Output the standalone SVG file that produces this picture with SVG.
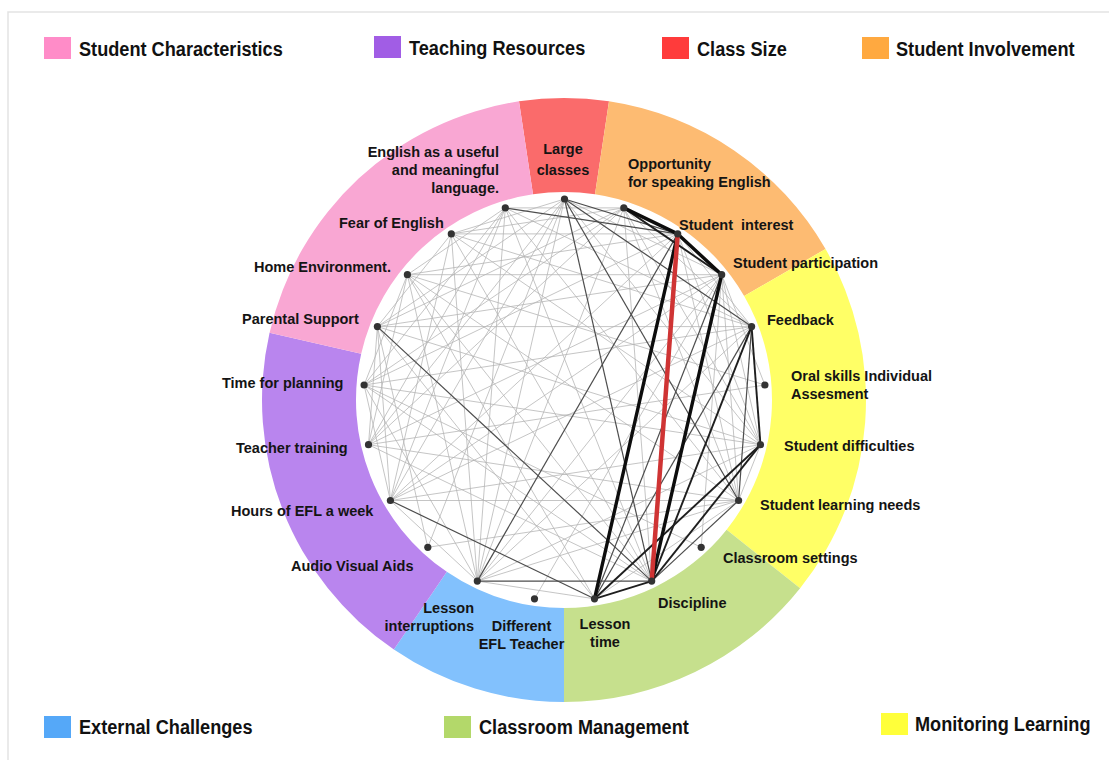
<svg xmlns="http://www.w3.org/2000/svg" width="1109" height="760" viewBox="0 0 1109 760">
<style>
.lg{font-family:"Liberation Sans",Arial,sans-serif;font-weight:bold;font-size:20.5px;fill:#111}
.lb{font-family:"Liberation Sans",Arial,sans-serif;font-weight:bold;font-size:14.5px;fill:#141414}
.l{stroke:#b3b3b3;stroke-width:0.9;stroke-opacity:0.85;fill:none}
.d{stroke:#4d4d4d;stroke-width:1.2;fill:none}
.m{stroke:#1e1e1e;stroke-width:1.9;fill:none}
.t{stroke:#0d0d0d;stroke-width:3.4;fill:none;stroke-linecap:round}
.r{stroke:#cf3434;stroke-width:4.5;fill:none;stroke-linecap:round}
.dot{fill:#333}
</style>
<rect width="1109" height="760" fill="#fff"/>
<path d="M8,760 L8,12 L1109,12" fill="none" stroke="#e3e3e3" stroke-width="1.5"/>
<g id="legend">
<rect x="44" y="37" width="27" height="22" fill="#FF8CC8"/><text class="lg" transform="translate(79,56) scale(0.886,1)">Student Characteristics</text>
<rect x="374" y="36" width="27" height="22" fill="#A15DE5"/><text class="lg" transform="translate(409,55) scale(0.886,1)">Teaching Resources</text>
<rect x="662" y="37" width="27" height="22" fill="#FF3B3B"/><text class="lg" transform="translate(697,56) scale(0.886,1)">Class Size</text>
<rect x="862" y="37" width="27" height="22" fill="#FFA940"/><text class="lg" transform="translate(896,56) scale(0.886,1)">Student Involvement</text>
<rect x="44" y="716" width="27" height="22" fill="#55A8F8"/><text class="lg" transform="translate(79,734) scale(0.886,1)">External Challenges</text>
<rect x="444" y="716" width="27" height="22" fill="#B3D86A"/><text class="lg" transform="translate(479,734) scale(0.886,1)">Classroom Management</text>
<rect x="881" y="713" width="27" height="22" fill="#FFFF3A"/><text class="lg" transform="translate(915,731) scale(0.886,1)">Monitoring Learning</text>
</g>
<g id="ring">
<path d="M518.99,101.37 A302,302 0 0 1 609.01,101.37 L595,194.32 A208,208 0 0 0 533,194.32 Z" fill="#FA6B6B"/>
<path d="M609.01,101.37 A302,302 0 0 1 825.54,249 L744.13,296 A208,208 0 0 0 595,194.32 Z" fill="#FDBB72"/>
<path d="M825.54,249 A302,302 0 0 1 800.11,588.29 L726.62,529.69 A208,208 0 0 0 744.13,296 Z" fill="#FFFF66"/>
<path d="M800.11,588.29 A302,302 0 0 1 564,702 L564,608 A208,208 0 0 0 726.62,529.69 Z" fill="#C6E08D"/>
<path d="M564,702 A302,302 0 0 1 393.88,649.52 L446.83,571.86 A208,208 0 0 0 564,608 Z" fill="#82C1FD"/>
<path d="M393.88,649.52 A302,302 0 0 1 269.57,332.8 L361.21,353.72 A208,208 0 0 0 446.83,571.86 Z" fill="#B985EE"/>
<path d="M269.57,332.8 A302,302 0 0 1 518.99,101.37 L533,194.32 A208,208 0 0 0 361.21,353.72 Z" fill="#F9A7D3"/>
</g>
<g id="connectors">
<g class="l">
<line x1="390.4" y1="500.5" x2="564.5" y2="199"/>
<line x1="390.4" y1="500.5" x2="677.7" y2="233.9"/>
<line x1="390.4" y1="500.5" x2="721.7" y2="274.7"/>
<line x1="390.4" y1="500.5" x2="751.6" y2="326.6"/>
<line x1="390.4" y1="500.5" x2="760.5" y2="444.7"/>
<line x1="390.4" y1="500.5" x2="738.6" y2="500.5"/>
<line x1="390.4" y1="500.5" x2="364.1" y2="385"/>
<line x1="390.4" y1="500.5" x2="377.4" y2="326.6"/>
<line x1="390.4" y1="500.5" x2="451.3" y2="233.9"/>
<line x1="390.4" y1="500.5" x2="505.3" y2="207.9"/>
<line x1="390.4" y1="500.5" x2="477.3" y2="581.1"/>
<line x1="368.5" y1="444.7" x2="623.8" y2="207.9"/>
<line x1="368.5" y1="444.7" x2="721.7" y2="274.7"/>
<line x1="368.5" y1="444.7" x2="764.9" y2="385"/>
<line x1="368.5" y1="444.7" x2="738.6" y2="500.5"/>
<line x1="368.5" y1="444.7" x2="651.7" y2="581.1"/>
<line x1="368.5" y1="444.7" x2="407.4" y2="274.7"/>
<line x1="368.5" y1="444.7" x2="505.3" y2="207.9"/>
<line x1="364.1" y1="385" x2="677.7" y2="233.9"/>
<line x1="364.1" y1="385" x2="751.6" y2="326.6"/>
<line x1="364.1" y1="385" x2="760.5" y2="444.7"/>
<line x1="364.1" y1="385" x2="651.7" y2="581.1"/>
<line x1="364.1" y1="385" x2="407.4" y2="274.7"/>
<line x1="364.1" y1="385" x2="623.8" y2="207.9"/>
<line x1="364.1" y1="385" x2="477.3" y2="581.1"/>
<line x1="364.1" y1="385" x2="701.2" y2="547.3"/>
<line x1="377.4" y1="326.6" x2="751.6" y2="326.6"/>
<line x1="377.4" y1="326.6" x2="721.7" y2="274.7"/>
<line x1="377.4" y1="326.6" x2="760.5" y2="444.7"/>
<line x1="377.4" y1="326.6" x2="594.5" y2="598.8"/>
<line x1="377.4" y1="326.6" x2="623.8" y2="207.9"/>
<line x1="377.4" y1="326.6" x2="368.5" y2="444.7"/>
<line x1="377.4" y1="326.6" x2="427.8" y2="547.3"/>
<line x1="377.4" y1="326.6" x2="451.3" y2="233.9"/>
<line x1="407.4" y1="274.7" x2="721.7" y2="274.7"/>
<line x1="407.4" y1="274.7" x2="677.7" y2="233.9"/>
<line x1="407.4" y1="274.7" x2="764.9" y2="385"/>
<line x1="407.4" y1="274.7" x2="738.6" y2="500.5"/>
<line x1="407.4" y1="274.7" x2="651.7" y2="581.1"/>
<line x1="407.4" y1="274.7" x2="594.5" y2="598.8"/>
<line x1="407.4" y1="274.7" x2="505.3" y2="207.9"/>
<line x1="407.4" y1="274.7" x2="477.3" y2="581.1"/>
<line x1="451.3" y1="233.9" x2="677.7" y2="233.9"/>
<line x1="451.3" y1="233.9" x2="751.6" y2="326.6"/>
<line x1="451.3" y1="233.9" x2="760.5" y2="444.7"/>
<line x1="451.3" y1="233.9" x2="651.7" y2="581.1"/>
<line x1="451.3" y1="233.9" x2="477.3" y2="581.1"/>
<line x1="451.3" y1="233.9" x2="623.8" y2="207.9"/>
<line x1="505.3" y1="207.9" x2="623.8" y2="207.9"/>
<line x1="505.3" y1="207.9" x2="751.6" y2="326.6"/>
<line x1="505.3" y1="207.9" x2="738.6" y2="500.5"/>
<line x1="505.3" y1="207.9" x2="651.7" y2="581.1"/>
<line x1="505.3" y1="207.9" x2="477.3" y2="581.1"/>
<line x1="505.3" y1="207.9" x2="364.1" y2="385"/>
<line x1="564.5" y1="199" x2="721.7" y2="274.7"/>
<line x1="564.5" y1="199" x2="760.5" y2="444.7"/>
<line x1="564.5" y1="199" x2="477.3" y2="581.1"/>
<line x1="564.5" y1="199" x2="427.8" y2="547.3"/>
<line x1="564.5" y1="199" x2="368.5" y2="444.7"/>
<line x1="564.5" y1="199" x2="377.4" y2="326.6"/>
<line x1="564.5" y1="199" x2="451.3" y2="233.9"/>
<line x1="623.8" y1="207.9" x2="751.6" y2="326.6"/>
<line x1="623.8" y1="207.9" x2="760.5" y2="444.7"/>
<line x1="623.8" y1="207.9" x2="738.6" y2="500.5"/>
<line x1="623.8" y1="207.9" x2="651.7" y2="581.1"/>
<line x1="623.8" y1="207.9" x2="477.3" y2="581.1"/>
<line x1="677.7" y1="233.9" x2="751.6" y2="326.6"/>
<line x1="677.7" y1="233.9" x2="760.5" y2="444.7"/>
<line x1="677.7" y1="233.9" x2="738.6" y2="500.5"/>
<line x1="721.7" y1="274.7" x2="764.9" y2="385"/>
<line x1="721.7" y1="274.7" x2="760.5" y2="444.7"/>
<line x1="721.7" y1="274.7" x2="738.6" y2="500.5"/>
<line x1="721.7" y1="274.7" x2="477.3" y2="581.1"/>
<line x1="751.6" y1="326.6" x2="477.3" y2="581.1"/>
<line x1="760.5" y1="444.7" x2="477.3" y2="581.1"/>
<line x1="760.5" y1="444.7" x2="738.6" y2="500.5"/>
<line x1="738.6" y1="500.5" x2="594.5" y2="598.8"/>
<line x1="738.6" y1="500.5" x2="477.3" y2="581.1"/>
<line x1="738.6" y1="500.5" x2="427.8" y2="547.3"/>
<line x1="701.2" y1="547.3" x2="721.7" y2="274.7"/>
<line x1="594.5" y1="598.8" x2="477.3" y2="581.1"/>
<line x1="534.5" y1="598.8" x2="721.7" y2="274.7"/>
</g>
<g class="d">
<line x1="564.5" y1="199" x2="677.7" y2="233.9"/>
<line x1="564.5" y1="199" x2="751.6" y2="326.6"/>
<line x1="564.5" y1="199" x2="651.7" y2="581.1"/>
<line x1="564.5" y1="199" x2="738.6" y2="500.5"/>
<line x1="377.4" y1="326.6" x2="651.7" y2="581.1"/>
<line x1="390.4" y1="500.5" x2="594.5" y2="598.8"/>
<line x1="477.3" y1="581.1" x2="651.7" y2="581.1"/>
<line x1="477.3" y1="581.1" x2="677.7" y2="233.9"/>
<line x1="505.3" y1="207.9" x2="677.7" y2="233.9"/>
<line x1="751.6" y1="326.6" x2="738.6" y2="500.5"/>
<line x1="738.6" y1="500.5" x2="651.7" y2="581.1"/>
<line x1="594.5" y1="598.8" x2="721.7" y2="274.7"/>
<line x1="594.5" y1="598.8" x2="751.6" y2="326.6"/>
</g>
<g class="m">
<line x1="623.8" y1="207.9" x2="721.7" y2="274.7"/>
<line x1="751.6" y1="326.6" x2="760.5" y2="444.7"/>
<line x1="751.6" y1="326.6" x2="651.7" y2="581.1"/>
<line x1="760.5" y1="444.7" x2="651.7" y2="581.1"/>
<line x1="760.5" y1="444.7" x2="594.5" y2="598.8"/>
<line x1="651.7" y1="581.1" x2="594.5" y2="598.8"/>
</g>
<g class="t">
<line x1="623.8" y1="207.9" x2="677.7" y2="233.9"/>
<line x1="677.7" y1="233.9" x2="721.7" y2="274.7"/>
<line x1="677.7" y1="233.9" x2="594.5" y2="598.8"/>
<line x1="721.7" y1="274.7" x2="651.7" y2="581.1"/>
</g>
<line class="r" x1="677.7" y1="233.9" x2="651.7" y2="581.1"/>
</g>
<g id="n0"><circle class="dot" cx="564.5" cy="199" r="3.6"/><text class="lb" x="563" y="154" text-anchor="middle">Large</text><text class="lb" x="563" y="175" text-anchor="middle">classes</text></g>
<g id="n1"><circle class="dot" cx="623.8" cy="207.9" r="3.6"/><text class="lb" x="628" y="169">Opportunity</text><text class="lb" x="628" y="187">for speaking English</text></g>
<g id="n2"><circle class="dot" cx="677.7" cy="233.9" r="3.6"/><text class="lb" x="679" y="230" xml:space="preserve">Student  interest</text></g>
<g id="n3"><circle class="dot" cx="721.7" cy="274.7" r="3.6"/><text class="lb" x="733" y="268">Student participation</text></g>
<g id="n4"><circle class="dot" cx="751.6" cy="326.6" r="3.6"/><text class="lb" x="767" y="325">Feedback</text></g>
<g id="n5"><circle class="dot" cx="764.9" cy="385" r="3.6"/><text class="lb" x="791" y="381">Oral skills Individual</text><text class="lb" x="791" y="399">Assesment</text></g>
<g id="n6"><circle class="dot" cx="760.5" cy="444.7" r="3.6"/><text class="lb" x="784" y="451">Student difficulties</text></g>
<g id="n7"><circle class="dot" cx="738.6" cy="500.5" r="3.6"/><text class="lb" x="760" y="510">Student learning needs</text></g>
<g id="n8"><circle class="dot" cx="701.2" cy="547.3" r="3.6"/><text class="lb" x="723" y="563">Classroom settings</text></g>
<g id="n9"><circle class="dot" cx="651.7" cy="581.1" r="3.6"/><text class="lb" x="658" y="608">Discipline</text></g>
<g id="n10"><circle class="dot" cx="594.5" cy="598.8" r="3.6"/><text class="lb" x="605" y="629" text-anchor="middle">Lesson</text><text class="lb" x="605" y="647" text-anchor="middle">time</text></g>
<g id="n11"><circle class="dot" cx="534.5" cy="598.8" r="3.6"/><text class="lb" x="521.5" y="631" text-anchor="middle">Different</text><text class="lb" x="521.5" y="649" text-anchor="middle">EFL Teacher</text></g>
<g id="n12"><circle class="dot" cx="477.3" cy="581.1" r="3.6"/><text class="lb" x="474" y="613" text-anchor="end">Lesson</text><text class="lb" x="474" y="631" text-anchor="end">interruptions</text></g>
<g id="n13"><circle class="dot" cx="427.8" cy="547.3" r="3.6"/><text class="lb" x="291" y="571">Audio Visual Aids</text></g>
<g id="n14"><circle class="dot" cx="390.4" cy="500.5" r="3.6"/><text class="lb" x="231" y="516">Hours of EFL a week</text></g>
<g id="n15"><circle class="dot" cx="368.5" cy="444.7" r="3.6"/><text class="lb" x="236" y="453">Teacher training</text></g>
<g id="n16"><circle class="dot" cx="364.1" cy="385" r="3.6"/><text class="lb" x="222" y="388">Time for planning</text></g>
<g id="n17"><circle class="dot" cx="377.4" cy="326.6" r="3.6"/><text class="lb" x="242" y="324">Parental Support</text></g>
<g id="n18"><circle class="dot" cx="407.4" cy="274.7" r="3.6"/><text class="lb" x="254" y="272">Home Environment.</text></g>
<g id="n19"><circle class="dot" cx="451.3" cy="233.9" r="3.6"/><text class="lb" x="339" y="228">Fear of English</text></g>
<g id="n20"><circle class="dot" cx="505.3" cy="207.9" r="3.6"/><text class="lb" x="499" y="157" text-anchor="end">English as a useful</text><text class="lb" x="499" y="175" text-anchor="end">and meaningful</text><text class="lb" x="499" y="193" text-anchor="end">language.</text></g>
</svg>
